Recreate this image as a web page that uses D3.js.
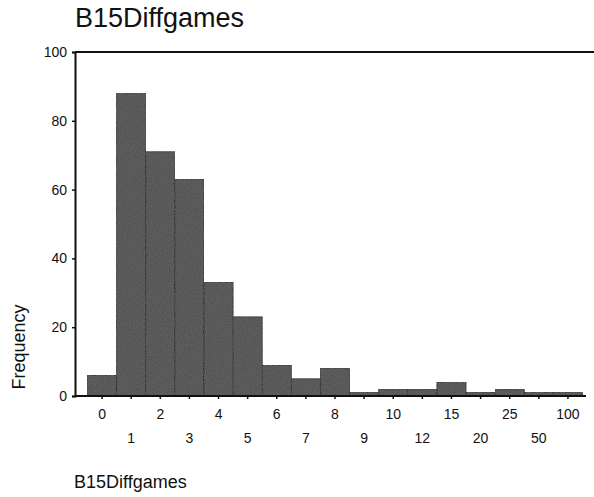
<!DOCTYPE html>
<html>
<head>
<meta charset="utf-8">
<script src="https://cdn.jsdelivr.net/npm/d3@7"></script>
<style>
  html, body { margin: 0; padding: 0; background: #fff; }
  svg text { font-family: "Liberation Sans", Arial, Helvetica, sans-serif; fill: #111; }
</style>
</head>
<body>
<svg id="chart" width="594" height="497"></svg>
<script>
const categories = ["0","1","2","3","4","5","6","7","8","9","10","12","15","20","25","50","100"];
const frequencies = [6, 88, 71, 63, 33, 23, 9, 5, 8, 1, 2, 2, 4, 1, 2, 1, 1];
const yTicks = [0, 20, 40, 60, 80, 100];
const titleText = "B15Diffgames";
const xTitle = "B15Diffgames";
const yTitle = "Frequency";

const svg = d3.select("#chart");

const axisX = 75, plotTop = 52, plotBottom = 396, plotRight = 594;

const x = d3.scaleBand().domain(categories).range([87.5, 582.5]).padding(0);
const y = d3.scaleLinear().domain([0, 100]).range([plotBottom, plotTop]);

// speckle texture filter
const defs = svg.append("defs");
const f = defs.append("filter").attr("id", "speckle").attr("x", 0).attr("y", 0).attr("width", 1).attr("height", 1);
f.append("feTurbulence").attr("type", "fractalNoise").attr("baseFrequency", 0.9).attr("numOctaves", 1).attr("seed", 3).attr("result", "noise");
f.append("feColorMatrix").attr("in", "noise").attr("type", "matrix")
  .attr("values", "0 0 0 0 0.15  0 0 0 0 0.15  0 0 0 0 0.15  1.4 0 0 0 -0.5").attr("result", "dots");
f.append("feComposite").attr("in", "dots").attr("in2", "SourceGraphic").attr("operator", "atop");

// title
svg.append("text").attr("x", 75).attr("y", 27).attr("font-size", 27).text(titleText);

// bars
svg.append("g").selectAll("rect").data(categories).join("rect")
  .attr("x", d => x(d))
  .attr("y", (d, i) => y(frequencies[i]))
  .attr("width", x.bandwidth())
  .attr("height", (d, i) => plotBottom - y(frequencies[i]))
  .attr("fill", "#545454")
  .attr("stroke", "#262626")
  .attr("stroke-width", 0.8)
  .attr("filter", "url(#speckle)");

// top frame line
svg.append("line").attr("x1", axisX).attr("x2", plotRight).attr("y1", plotTop).attr("y2", plotTop)
  .attr("stroke", "#111").attr("stroke-width", 2);

// y axis
const yAxis = d3.axisLeft(y).tickValues(yTicks).tickSize(3).tickPadding(5);
const gy = svg.append("g").attr("transform", `translate(${axisX},0)`).call(yAxis);
gy.select(".domain").attr("stroke", "#111").attr("stroke-width", 2);
gy.selectAll(".tick line").attr("stroke", "#111").attr("stroke-width", 1.5);
gy.selectAll(".tick text").attr("font-size", 14).attr("font-family", "Liberation Sans, Arial, sans-serif").attr("fill", "#111");

// x axis
const xAxis = d3.axisBottom(x).tickSize(3).tickPadding(10);
const gx = svg.append("g").attr("transform", `translate(0,${plotBottom})`).call(xAxis);
gx.select(".domain").remove();
gx.append("line").attr("x1", axisX).attr("x2", 586).attr("y1", 0).attr("y2", 0)
  .attr("stroke", "#111").attr("stroke-width", 2);
gx.selectAll(".tick line").attr("stroke", "#111").attr("stroke-width", 1.5);
gx.selectAll(".tick text")
  .attr("font-size", 14).attr("font-family", "Liberation Sans, Arial, sans-serif").attr("fill", "#111")
  .attr("dy", (d, i) => i % 2 === 0 ? "0.71em" : "2.4em");

// axis titles
svg.append("text").attr("transform", "translate(25,347) rotate(-90)")
  .attr("text-anchor", "middle").attr("font-size", 18).text(yTitle);
svg.append("text").attr("x", 74).attr("y", 488).attr("font-size", 18).text(xTitle);
</script>
</body>
</html>
